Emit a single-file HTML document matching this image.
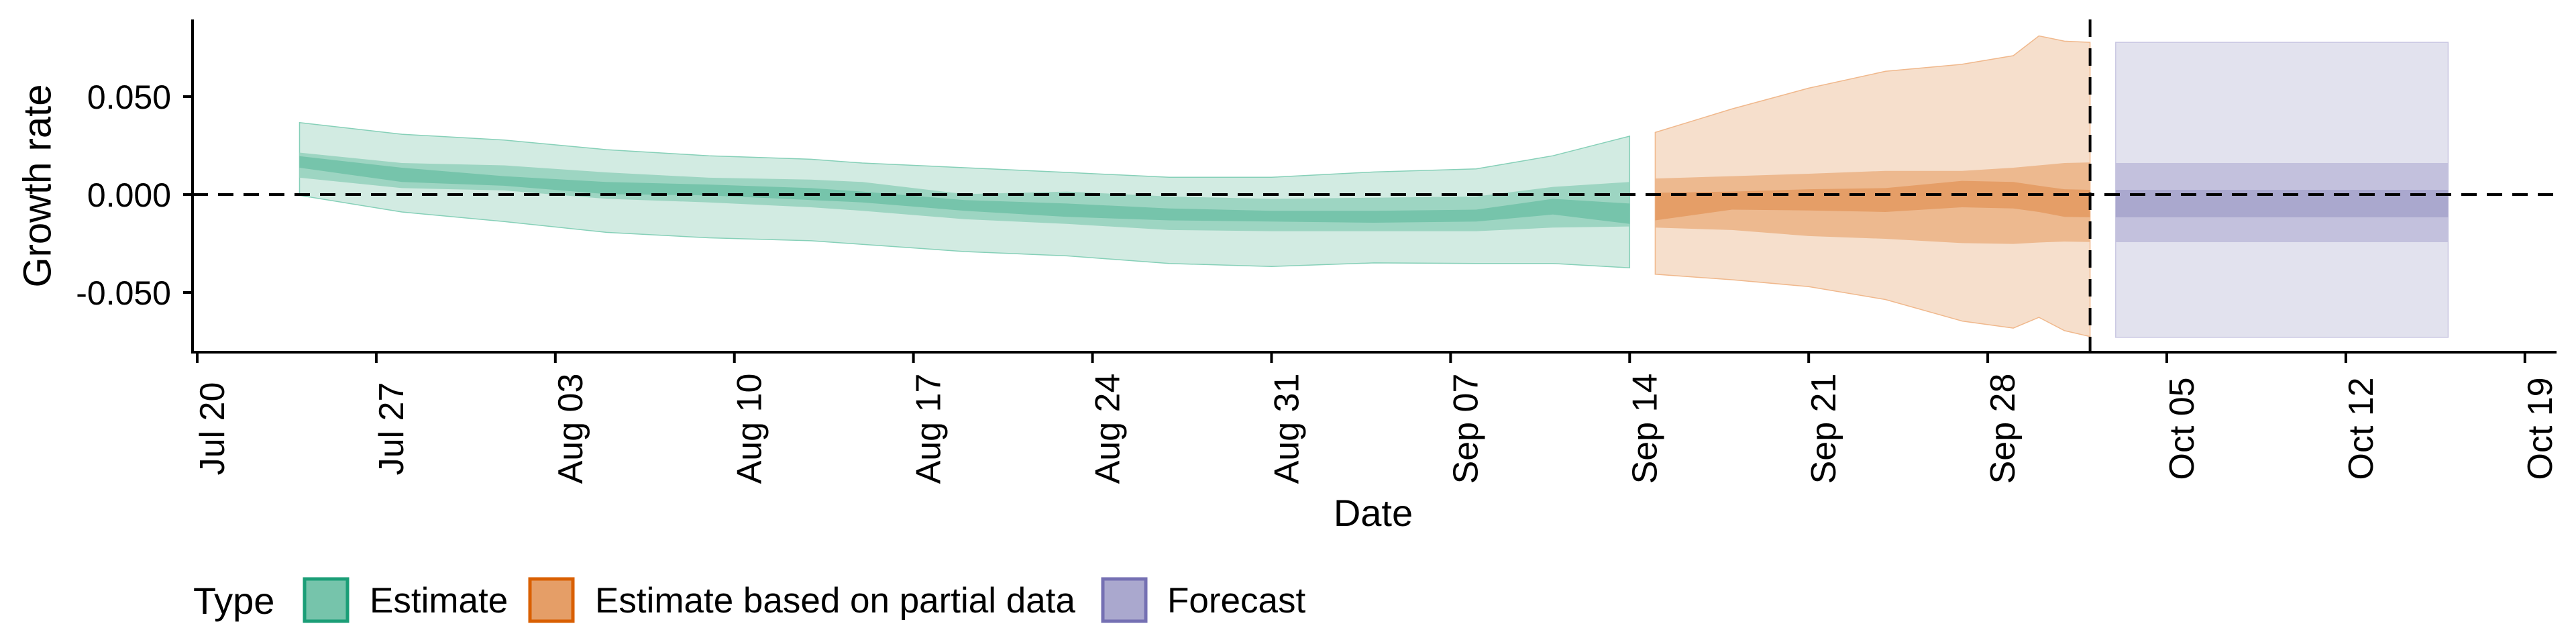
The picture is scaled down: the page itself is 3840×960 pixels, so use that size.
<!DOCTYPE html>
<html><head><meta charset="utf-8"><style>
html,body{margin:0;padding:0;background:#fff;}
svg{display:block;font-family:"Liberation Sans",sans-serif;}
</style></head><body>
<svg id="chart" width="3840" height="960" viewBox="0 0 3840 960" xmlns="http://www.w3.org/2000/svg">
<g id="bands"></g>
<g id="axes"></g>
<text x="56" y="277" font-size="58" text-anchor="middle" transform="rotate(-90 56 277)" dominant-baseline="central">Growth rate</text>
<text x="2047" y="784" font-size="56" text-anchor="middle">Date</text>
<g>
<text x="288" y="915" font-size="56">Type</text>
<g>
<rect x="454" y="863" width="64" height="63" fill="#76c4ab" stroke="#1b9e77" stroke-width="5"/>
<text x="551" y="913" font-size="53">Estimate</text></g>
<g>
<rect x="790" y="863" width="64" height="63" fill="#e59e67" stroke="#d95f02" stroke-width="5"/>
<text x="887" y="913" font-size="53">Estimate based on partial data</text></g>
<g>
<rect x="1644" y="863" width="64" height="63" fill="#aaa8ce" stroke="#7570b3" stroke-width="5"/>
<text x="1740" y="913" font-size="53">Forecast</text></g>
</g>
</svg>
<script>
// day offsets from Jul 20
const estDays = [4,8,12,16,20,24,26,30,34,38,42,46,50,53,56];
const estUpper90 = [0.0367,0.0308,0.0278,0.0229,0.0198,0.018,0.0161,0.0137,0.0113,0.0088,0.0088,0.0115,0.0131,0.0198,0.0298];
const estLower90 = [-0.0004,-0.0089,-0.0138,-0.0193,-0.0221,-0.0236,-0.0254,-0.0291,-0.0313,-0.0352,-0.0367,-0.0349,-0.0352,-0.0352,-0.0374];
const estUpper50 = [0.0214,0.0161,0.0149,0.0113,0.0086,0.0076,0.0064,0.0002,0.0015,-0.001,-0.0022,-0.0016,-0.001,0.0039,0.0064];
const estLower50 = [0.0086,0.0033,0.0021,-0.0022,-0.004,-0.0065,-0.0083,-0.0126,-0.015,-0.0181,-0.0187,-0.0187,-0.0187,-0.0169,-0.0163];
const estUpper20 = [0.0196,0.0137,0.0094,0.0064,0.0051,0.0033,0.0015,-0.0028,-0.0046,-0.0071,-0.0083,-0.0083,-0.0077,-0.0022,-0.0046];
const estLower20 = [0.0137,0.0064,0.0045,0.0002,-0.0004,-0.0028,-0.004,-0.0083,-0.0114,-0.0132,-0.0138,-0.0144,-0.0138,-0.0102,-0.015];

const partDays = [57,60,63,66,69,71,72,73,74];
const partUpper90 = [0.0317,0.0437,0.0543,0.0629,0.0665,0.0709,0.081,0.0783,0.0777];
const partLower90 = [-0.0407,-0.0435,-0.047,-0.0536,-0.0646,-0.0682,-0.0627,-0.0695,-0.0725];
const partUpper50 = [0.0082,0.0094,0.0106,0.0121,0.0121,0.0137,0.0149,0.0161,0.0164];
const partLower50 = [-0.0169,-0.0181,-0.0212,-0.0226,-0.0248,-0.0252,-0.0245,-0.024,-0.0242];
const partUpper20 = [0.0009,0.0015,0.0027,0.0033,0.007,0.0064,0.0045,0.0027,0.0024];
const partLower20 = [-0.0132,-0.0077,-0.0081,-0.0089,-0.0065,-0.0071,-0.0089,-0.0114,-0.0116];

const fcDays = [75,88];
const fcUpper90 = [0.0777,0.0777];
const fcLower90 = [-0.0729,-0.0729];
const fcUpper50 = [0.0161,0.0161];
const fcLower50 = [-0.0243,-0.0243];
const fcUpper20 = [0.0024,0.0024];
const fcLower20 = [-0.0116,-0.0116];

const xTickDays = [0,7,14,21,28,35,42,49,56,63,70,77,84,91];
const xTickLabels = ["Jul 20","Jul 27","Aug 03","Aug 10","Aug 17","Aug 24","Aug 31","Sep 07","Sep 14","Sep 21","Sep 28","Oct 05","Oct 12","Oct 19"];
const yTicks = [0.05,0,-0.05];
const yTickLabels = ["0.050","0.000","-0.050"];
const partialCutoffDay = 74;

const X0=294, PXD=38.13, Y0=290, PXU=2920;
const xs = d => X0 + d*PXD;
const ys = v => Y0 - v*PXU;
const NS="http://www.w3.org/2000/svg";
const bands=document.getElementById('bands'), axes=document.getElementById('axes');

function band(days, up, lo, fill, stroke, name){
  let pts=days.map((d,i)=>xs(d).toFixed(1)+','+ys(up[i]).toFixed(1));
  for(let i=days.length-1;i>=0;i--) pts.push(xs(days[i]).toFixed(1)+','+ys(lo[i]).toFixed(1));
  const p=document.createElementNS(NS,'polygon');
  p.setAttribute('points',pts.join(' '));
  p.setAttribute('fill',fill);
  if(stroke){p.setAttribute('stroke',stroke);p.setAttribute('stroke-width','1.5');}
  
  
  bands.appendChild(p);
}
band(estDays,estUpper90,estLower90,'#d2ebe2','#86d0b8','estimate-band-90');
band(estDays,estUpper50,estLower50,'#9dd5c2',null,'estimate-band-50');
band(estDays,estUpper20,estLower20,'#76c4ab',null,'estimate-band-20');
band(partDays,partUpper90,partLower90,'#f6dfcc','#f0b88c','partial-band-90');
band(partDays,partUpper50,partLower50,'#edb98f',null,'partial-band-50');
band(partDays,partUpper20,partLower20,'#e59e67',null,'partial-band-20');
band(fcDays,fcUpper90,fcLower90,'#e2e2ee','#c9c7e2','forecast-band-90');
band(fcDays,fcUpper50,fcLower50,'#c3c1dd',null,'forecast-band-50');
band(fcDays,fcUpper20,fcLower20,'#aaa8ce',null,'forecast-band-20');

function line(x1,y1,x2,y2,w,dash,name){
  const l=document.createElementNS(NS,'line');
  l.setAttribute('x1',x1);l.setAttribute('y1',y1);l.setAttribute('x2',x2);l.setAttribute('y2',y2);
  l.setAttribute('stroke','#000');l.setAttribute('stroke-width',w);
  if(dash) l.setAttribute('stroke-dasharray',dash);
  
  
  axes.appendChild(l);
}
function text(x,y,s,size,anchor,rot,name){
  const t=document.createElementNS(NS,'text');
  t.setAttribute('x',x);t.setAttribute('y',y);t.setAttribute('font-size',size);
  t.setAttribute('text-anchor',anchor);
  if(rot) t.setAttribute('transform','rotate(-90 '+x+' '+y+')');
  t.textContent=s;
  
  
  axes.appendChild(t);
}
line(287,ys(0),3811,ys(0),4,'23 15','zero-reference-line');
line(xs(partialCutoffDay),29,xs(partialCutoffDay),525,4,'26 17','partial-data-cutoff-line');
line(287,29,287,527,4,null,'y-axis-line');
line(285,525,3811,525,4,null,'x-axis-line');
yTicks.forEach((v,i)=>{
  line(273,ys(v),287,ys(v),4,null,'y-tick');
  text(255,ys(v)+18,yTickLabels[i],50,'end',false,'y-tick-label');
});
xTickDays.forEach((d,i)=>{
  line(xs(d),525,xs(d),541,4,null,'x-tick');
  text(xs(d)+40,639,xTickLabels[i],52,'middle',true,'x-tick-label');
});
</script>
</body></html>
